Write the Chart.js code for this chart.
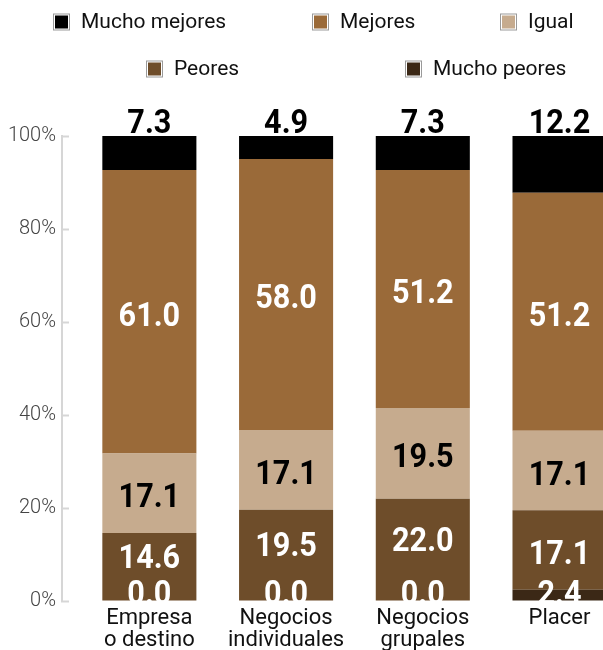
<!DOCTYPE html>
<html>
<head>
<meta charset="utf-8">
<script src="https://cdn.jsdelivr.net/npm/chart.js@4/dist/chart.umd.min.js"></script>
<style>
  body { margin: 0; background: #fff; overflow: hidden; }
</style>
</head>
<body>
<canvas id="chart" width="603" height="650"></canvas>
<script>
// categories (x axis) and the five answer groups, in %
var categories = [["Empresa", "o destino"], ["Negocios", "individuales"], ["Negocios", "grupales"], ["Placer"]];
var muchoPeores = [0.0, 0.0, 0.0, 2.4];
var peores = [14.6, 19.5, 22.0, 17.1];
var igual = [17.1, 17.1, 19.5, 17.1];
var mejores = [61.0, 58.0, 51.2, 51.2];
var muchoMejores = [7.3, 4.9, 7.3, 12.2];
var yTicks = [0, 20, 40, 60, 80, 100];

var series = [
  { label: "Mucho peores", values: muchoPeores, color: "#3b2816", text: "#fff" },
  { label: "Peores", values: peores, color: "#6e4d2a", text: "#fff" },
  { label: "Igual", values: igual, color: "#c6ab8e", text: "#000" },
  { label: "Mejores", values: mejores, color: "#9a6a39", text: "#fff" },
  { label: "Mucho mejores", values: muchoMejores, color: "#000000", text: "#000" }
];

// 100% stack: share of each bar's total
var totals = categories.map(function (c, i) {
  return series.reduce(function (s, d) { return s + d.values[i]; }, 0);
});

var datasets = series.map(function (s) {
  return {
    label: s.label,
    data: s.values.map(function (v, i) { return { x: i, y: v / totals[i] * 100 }; }),
    backgroundColor: s.color,
    borderWidth: 0,
    categoryPercentage: 1,
    barPercentage: 0.688
  };
});

// legend drawn in the same spots as the reference
var legendSpots = [
  { name: "Mucho mejores", x: 53, y: 22 },
  { name: "Mejores", x: 312, y: 22 },
  { name: "Igual", x: 500, y: 22 },
  { name: "Peores", x: 146, y: 69 },
  { name: "Mucho peores", x: 405, y: 69 }
];

var legendPlugin = {
  id: "legendSpots",
  afterDraw: function (chart) {
    var ctx = chart.ctx;
    ctx.save();
    ctx.font = "21px Roboto";
    ctx.textBaseline = "middle";
    ctx.textAlign = "left";
    legendSpots.forEach(function (spot) {
      var s = series.filter(function (d) { return d.label === spot.name; })[0];
      ctx.fillStyle = "#9a9a9a";
      ctx.fillRect(spot.x, spot.y - 8.5, 17, 17);
      ctx.fillStyle = "#fff";
      ctx.fillRect(spot.x + 1, spot.y - 7.5, 15, 15);
      ctx.fillStyle = s.color;
      ctx.fillRect(spot.x + 2, spot.y - 6.5, 13, 13);
      ctx.fillStyle = "#111";
      ctx.fillText(s.label, spot.x + 28, spot.y + 1);
    });
    ctx.restore();
  }
};

// value labels, narrow bold digits
var valuePlugin = {
  id: "values",
  afterDatasetsDraw: function (chart) {
    var ctx = chart.ctx;
    var area = chart.chartArea;
    var last = series.length - 1;
    ctx.save();
    ctx.font = "bold 34px Roboto";
    ctx.textAlign = "center";
    ctx.textBaseline = "alphabetic";
    series.forEach(function (s, di) {
      var meta = chart.getDatasetMeta(di);
      meta.data.forEach(function (bar, i) {
        var txt = s.values[i].toFixed(1);
        var base;
        ctx.save();
        if (di === last) {
          base = bar.y - 3;
        } else {
          ctx.beginPath();
          ctx.rect(area.left, area.top, area.right - area.left, area.bottom - area.top);
          ctx.clip();
          var mid = (bar.y + bar.base) / 2;
          base = Math.min(mid + 14, area.bottom + 3);
          // leave room for a "0.0" label sitting under it
          if (di > 0 && series[di - 1].values[i] === 0) base -= 13;
        }
        ctx.fillStyle = s.text;
        ctx.translate(bar.x, base);
        ctx.scale(0.9, 1);
        ctx.fillText(txt, 0, 0);
        ctx.restore();
      });
    });
    ctx.restore();
  }
};

var ctx = document.getElementById("chart");

var chart = new Chart(ctx, {
  type: "bar",
  data: { datasets: datasets },
  options: {
    responsive: false,
    animation: false,
    layout: { padding: { top: 136, right: 0, bottom: 0, left: 0 } },
    plugins: { legend: { display: false }, tooltip: { enabled: false } },
    scales: {
      x: {
        type: "linear",
        stacked: true,
        offset: false,
        min: -0.639,
        max: 3.318,
        grid: { display: false, offset: false },
        border: { display: false },
        afterBuildTicks: function (scale) {
          scale.ticks = categories.map(function (c, i) { return { value: i }; });
        },
        afterFit: function (scale) { scale.height = 49; },
        ticks: {
          autoSkip: false,
          maxRotation: 0,
          padding: -2,
          color: "#111",
          font: { family: "Roboto", size: 22, lineHeight: 1.0 },
          callback: function (v) { return categories[v]; }
        }
      },
      y: {
        stacked: true,
        min: 0,
        max: 100,
        afterBuildTicks: function (scale) {
          scale.ticks = yTicks.map(function (v) { return { value: v }; });
        },
        afterFit: function (scale) { scale.width = 62; },
        grid: { drawOnChartArea: false, tickLength: -7, color: "#d6d6d6", tickWidth: 2 },
        border: { color: "#d6d6d6", width: 2 },
        ticks: {
          padding: 13,
          color: "#444",
          font: { family: "Roboto", size: 20, weight: "300" },
          callback: function (v) { return v + "%"; }
        }
      }
    }
  },
  plugins: [legendPlugin, valuePlugin]
});
</script>
</body>
</html>
